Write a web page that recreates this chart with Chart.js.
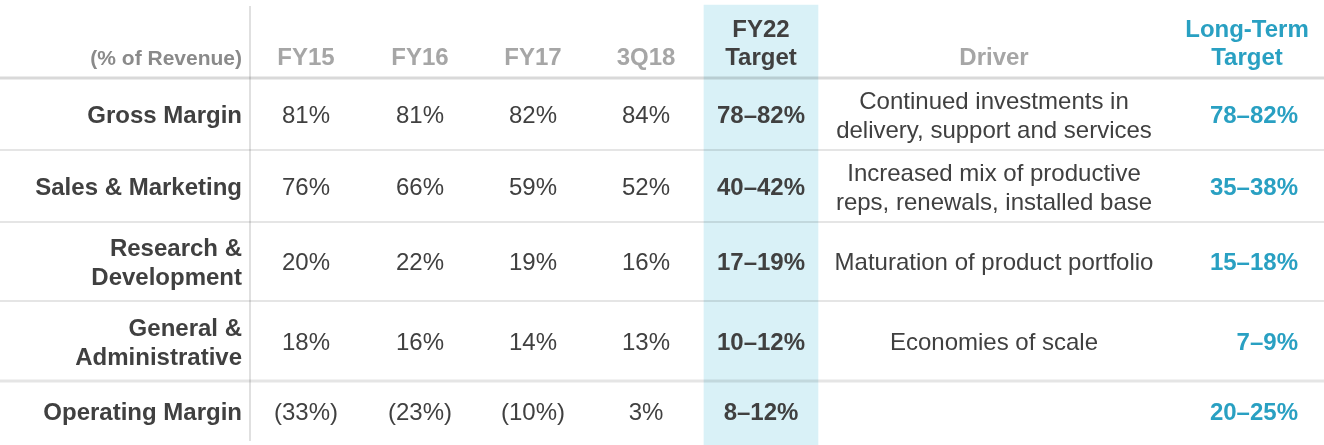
<!DOCTYPE html>
<html>
<head>
<meta charset="utf-8">
<script src="https://cdn.jsdelivr.net/npm/chart.js@4.4.1/dist/chart.umd.min.js"></script>
<style>
  html, body { margin: 0; padding: 0; background: #ffffff; }
  #wrap { width: 1324px; height: 445px; }
</style>
</head>
<body>
<div id="wrap"><canvas id="c" width="1324" height="445"></canvas></div>
<script>
// ---------- data ----------
const rowLabels = [['Gross Margin'], ['Sales & Marketing'], ['Research &', 'Development'], ['General &', 'Administrative'], ['Operating Margin']];
const periodLabels = ['FY15', 'FY16', 'FY17', '3Q18'];
const fy15 = ['81%', '76%', '20%', '18%', '(33%)'];
const fy16 = ['81%', '66%', '22%', '16%', '(23%)'];
const fy17 = ['82%', '59%', '19%', '14%', '(10%)'];
const q318 = ['84%', '52%', '16%', '13%', '3%'];
const targetHeader = ['FY22', 'Target'];
const fy22Target = ['78–82%', '40–42%', '17–19%', '10–12%', '8–12%'];
const driverHeader = 'Driver';
const drivers = [
  ['Continued investments in', 'delivery, support and services'],
  ['Increased mix of productive', 'reps, renewals, installed base'],
  ['Maturation of product portfolio'],
  ['Economies of scale'],
  []
];
const longTermHeader = ['Long-Term', 'Target'];
const longTermTarget = ['78–82%', '35–38%', '15–18%', '7–9%', '20–25%'];
const cornerLabel = '(% of Revenue)';

// ---------- layout (scale units) ----------
const W = 1324, H = 445;
const colLabelRight = 242;
const colPeriods = [306, 420, 533, 646];
const colTarget = 761, colTargetWidth = 114;
const colDriver = 994;
const colLongTermRight = 1298, colLongTermHeader = 1247;
const dividerX = 250;
const headerBottom = 78;
const rowBounds = [150, 222, 301, 381];
const rowCenters = [115, 187, 262, 342, 412];
const headerBaseline = 65, lineGap = 28.5;

const DARK = '#404040', GRAY = '#a6a6a6', CORNER = '#8a8a8a', TEAL = '#29a0c2', HILITE = '#d9f1f7';
const FONT = '"Liberation Sans", Arial, sans-serif';
const FS = 24;

const periodSeries = [fy15, fy16, fy17, q318];

const tablePlugin = {
  id: 'tablePlugin',
  afterDatasetsDraw(chart) {
    const ctx = chart.ctx;
    const xs = chart.scales.x, ys = chart.scales.y;
    const X = v => xs.getPixelForValue(v);
    const Y = v => ys.getPixelForValue(v);
    ctx.save();
    // rules
    const hline = (y, w, c) => {
      ctx.strokeStyle = c; ctx.lineWidth = w;
      ctx.beginPath(); ctx.moveTo(X(0), Y(y)); ctx.lineTo(X(W), Y(y)); ctx.stroke();
    };
    hline(headerBottom, 3, 'rgba(0,0,0,0.15)');
    rowBounds.forEach((y, i) => hline(y, i === rowBounds.length - 1 ? 3 : 2, 'rgba(0,0,0,0.1)'));
    ctx.strokeStyle = 'rgba(0,0,0,0.12)'; ctx.lineWidth = 2;
    ctx.beginPath(); ctx.moveTo(X(dividerX), Y(6)); ctx.lineTo(X(dividerX), Y(441)); ctx.stroke();

    const text = (str, x, baseline, align, color, bold, size) => {
      ctx.font = (bold ? 'bold ' : '') + (size || FS) + 'px ' + FONT;
      ctx.fillStyle = color; ctx.textAlign = align; ctx.textBaseline = 'alphabetic';
      ctx.fillText(str, X(x), Y(baseline));
    };
    const capHalf = 8.3;
    const lines = (arr, x, center, align, color, bold) => {
      const n = arr.length;
      arr.forEach((s, k) => {
        const b = center + capHalf + (k - (n - 1) / 2) * lineGap;
        text(s, x, b, align, color, bold);
      });
    };

    // header
    text(cornerLabel, colLabelRight, headerBaseline, 'right', CORNER, true, 21);
    periodLabels.forEach((p, i) => text(p, colPeriods[i], headerBaseline, 'center', GRAY, true));
    text(targetHeader[0], colTarget, headerBaseline - lineGap, 'center', DARK, true);
    text(targetHeader[1], colTarget, headerBaseline, 'center', DARK, true);
    text(driverHeader, colDriver, headerBaseline, 'center', GRAY, true);
    text(longTermHeader[0], colLongTermHeader, headerBaseline - lineGap, 'center', TEAL, true);
    text(longTermHeader[1], colLongTermHeader, headerBaseline, 'center', TEAL, true);

    // body
    rowLabels.forEach((lbl, r) => {
      const c = rowCenters[r];
      lines(lbl, colLabelRight, c, 'right', DARK, true);
      periodSeries.forEach((ser, i) => lines([ser[r]], colPeriods[i], c, 'center', DARK, false));
      lines([fy22Target[r]], colTarget, c, 'center', DARK, true);
      lines(drivers[r], colDriver, c, 'center', DARK, false);
      lines([longTermTarget[r]], colLongTermRight, c, 'right', TEAL, true);
    });
    ctx.restore();
  }
};

new Chart(document.getElementById('c'), {
  type: 'bar',
  data: {
    datasets: [{
      label: 'FY22 Target',
      data: [{ x: colTarget, y: [5, H] }],
      backgroundColor: HILITE,
      borderWidth: 0,
      barThickness: colTargetWidth,
      grouped: false
    }]
  },
  options: {
    responsive: false,
    devicePixelRatio: 1,
    animation: false,
    layout: { padding: 0 },
    plugins: { legend: { display: false }, tooltip: { enabled: false } },
    events: [],
    scales: {
      x: { type: 'linear', min: 0, max: W, offset: false, display: false },
      y: { type: 'linear', min: 0, max: H, reverse: true, display: false }
    }
  },
  plugins: [tablePlugin]
});
</script>
</body>
</html>
